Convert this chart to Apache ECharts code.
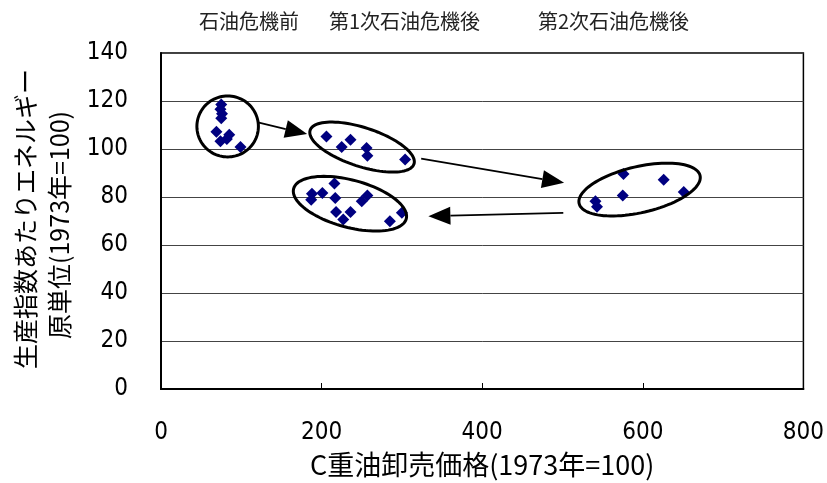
<!DOCTYPE html>
<html>
<head>
<meta charset="utf-8">
<script src="https://cdn.jsdelivr.net/npm/echarts@6/dist/echarts.min.js"></script>
<style>
  html, body { margin: 0; padding: 0; background: #fff; }
  #chart { width: 827px; height: 483px; }
</style>
</head>
<body>
<div id="chart"></div>
<script>
// C重油卸売価格 (x) vs 生産指数あたりエネルギー原単位 (y), 1973年=100
const preCrisisX   = [75, 74, 76, 75, 69, 74, 82, 85, 99];
const preCrisisY   = [118.5, 116.6, 114.7, 112.8, 107.2, 103.2, 104.2, 105.9, 100.8];
const firstCrisisX = [206, 236, 225, 256, 257, 304];
const firstCrisisY = [105.2, 103.9, 100.8, 100.4, 97.2, 95.6];
const secondCrisisX = [576, 626, 575, 651, 541, 543];
const secondCrisisY = [89.6, 87.2, 80.6, 82.1, 78.2, 75.9];
const recoveryX = [216, 188, 187, 201, 217, 218, 236, 227, 250, 257, 285, 300];
const recoveryY = [85.6, 81.4, 78.9, 81.7, 79.6, 73.7, 73.7, 70.6, 78.2, 80.6, 69.9, 73.4];

const xTicks = [0, 200, 400, 600, 800];
const yTicks = [0, 20, 40, 60, 80, 100, 120, 140];

const periodLabels = ['石油危機前', '第1次石油危機後', '第2次石油危機後'];
const xTitle = 'C重油卸売価格(1973年=100)';
const yTitleLines = ['生産指数あたりエネルギー', '原単位(1973年=100)'];

// Annotation shapes, in data units: [centerX, centerY, semiAxisX, semiAxisY, tiltDeg]
const groupRings = [
  [83, 109.4, 38.3, 12.7, 0],
  [250.4, 100.8, 68, 8.1, 18],
  [596, 83.1, 77.3, 9.6, -13],
  [235.3, 77.2, 72.6, 9.85, 15]
];
// Transition arrows, in data units: [fromX, fromY, toX, toY]
const transitions = [
  [122, 111.0, 182, 106.2],
  [324, 96.0, 502, 85.9],
  [501, 73.4, 333, 72.0]
];

function zip(xs, ys) { return xs.map((x, i) => [x, ys[i]]); }

const chart = echarts.init(document.getElementById('chart'));
const numFont = "'Liberation Sans Narrow', 'DejaVu Sans Condensed', 'Liberation Sans', Arial, sans-serif";
const jpFont = "'Noto Sans CJK JP', sans-serif";

function scatter(name, xs, ys) {
  return {
    name, type: 'scatter', data: zip(xs, ys),
    symbol: 'diamond', symbolSize: 12,
    itemStyle: { color: '#000080', opacity: 1 }, z: 5, silent: true
  };
}

const labelStyle = { fontSize: 20, fill: '#222', fontFamily: jpFont };

chart.setOption({
  animation: false,
  backgroundColor: '#fff',
  grid: { left: 161, top: 53, right: 19, bottom: 93, show: true, borderColor: '#000', borderWidth: 1.5, backgroundColor: 'transparent' },
  xAxis: {
    type: 'value', min: xTicks[0], max: xTicks[xTicks.length - 1], interval: 200,
    axisLine: { show: true, lineStyle: { color: '#000', width: 2 } },
    axisTick: { show: true, inside: true, length: 6, lineStyle: { color: '#000' } },
    splitLine: { show: false },
    axisLabel: { margin: 32, fontSize: 24, color: '#000', fontFamily: numFont },
    name: xTitle, nameLocation: 'middle', nameGap: 62,
    nameTextStyle: { fontSize: 27, color: '#000', fontFamily: jpFont }
  },
  yAxis: {
    type: 'value', min: yTicks[0], max: yTicks[yTicks.length - 1], interval: 20,
    axisLine: { show: true, lineStyle: { color: '#000', width: 2 } },
    axisTick: { show: false },
    splitLine: { show: true, lineStyle: { color: '#444', width: 1 } },
    axisLabel: { margin: 33, fontSize: 24, color: '#000', fontFamily: numFont }
  },
  graphic: [
    { type: 'text', left: 199, top: 11, style: Object.assign({ text: periodLabels[0] }, labelStyle) },
    { type: 'text', left: 329, top: 11, style: Object.assign({ text: periodLabels[1] }, labelStyle) },
    { type: 'text', left: 538, top: 11, style: Object.assign({ text: periodLabels[2] }, labelStyle) },
    { type: 'text', x: 25, y: 219, rotation: Math.PI / 2,
      style: { text: yTitleLines[0], fontSize: 25, fill: '#000', fontFamily: jpFont, align: 'center', verticalAlign: 'middle' } },
    { type: 'text', x: 59, y: 225, rotation: Math.PI / 2,
      style: { text: yTitleLines[1], fontSize: 25, fill: '#000', fontFamily: jpFont, align: 'center', verticalAlign: 'middle' } }
  ],
  series: [
    {
      type: 'custom', name: 'rings', coordinateSystem: 'cartesian2d', silent: true, clip: false, z: 6,
      data: groupRings, encode: { x: 0, y: 1 },
      renderItem: function (params, api) {
        const c = api.coord([api.value(0), api.value(1)]);
        const a = api.size([api.value(2), 0])[0];
        const b = api.size([0, api.value(3)])[1];
        const th = api.value(4) * Math.PI / 180;
        const pts = [];
        for (let i = 0; i < 96; i++) {
          const t = i / 96 * Math.PI * 2;
          const ex = a * Math.cos(t), ey = b * Math.sin(t);
          pts.push([c[0] + ex * Math.cos(th) - ey * Math.sin(th), c[1] + ex * Math.sin(th) + ey * Math.cos(th)]);
        }
        return { type: 'polygon', shape: { points: pts }, style: { fill: 'none', stroke: '#000', lineWidth: 3 } };
      }
    },
    {
      type: 'custom', name: 'arrows', coordinateSystem: 'cartesian2d', silent: true, clip: false, z: 6,
      data: transitions, encode: { x: [0, 2], y: [1, 3] },
      renderItem: function (params, api) {
        const p1 = api.coord([api.value(0), api.value(1)]);
        const p2 = api.coord([api.value(2), api.value(3)]);
        const dx = p2[0] - p1[0], dy = p2[1] - p1[1];
        const len = Math.sqrt(dx * dx + dy * dy);
        const ux = dx / len, uy = dy / len;
        const headLen = 22, headHalf = 9;
        const bx = p2[0] - ux * headLen, by = p2[1] - uy * headLen;
        return {
          type: 'group',
          children: [
            { type: 'line', shape: { x1: p1[0], y1: p1[1], x2: bx, y2: by }, style: { stroke: '#000', lineWidth: 1.8 } },
            { type: 'polygon', shape: { points: [[p2[0], p2[1]], [bx - uy * headHalf, by + ux * headHalf], [bx + uy * headHalf, by - ux * headHalf]] }, style: { fill: '#000' } }
          ]
        };
      }
    },
    scatter('石油危機前', preCrisisX, preCrisisY),
    scatter('第1次石油危機後', firstCrisisX, firstCrisisY),
    scatter('第2次石油危機後', secondCrisisX, secondCrisisY),
    scatter('その後', recoveryX, recoveryY)
  ]
});
</script>
</body>
</html>
